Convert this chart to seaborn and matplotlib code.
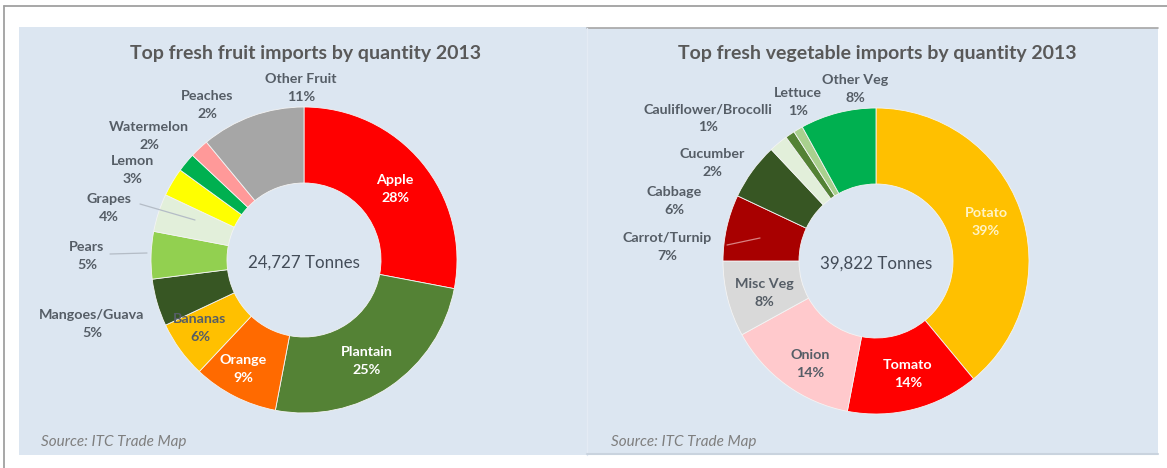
import matplotlib
matplotlib.use("Agg")
import matplotlib.pyplot as plt
from matplotlib.patches import Rectangle
import seaborn as sns

# ---- data -------------------------------------------------------------
fruit_names = ["Apple", "Plantain", "Orange", "Bananas", "Mangoes/Guava",
               "Pears", "Grapes", "Lemon", "Watermelon", "Peaches",
               "Other Fruit"]
fruit_pct = [28, 25, 9, 6, 5, 5, 4, 3, 2, 2, 11]
fruit_total = "24,727 Tonnes"

veg_names = ["Potato", "Tomato", "Onion", "Misc Veg", "Carrot/Turnip",
             "Cabbage", "Cucumber", "Cauliflower/Brocolli", "Lettuce",
             "Other Veg"]
veg_pct = [39, 14, 14, 8, 7, 6, 2, 1, 1, 8]
veg_total = "39,822 Tonnes"

fruit_title = "Top fresh fruit imports by quantity 2013"
veg_title = "Top fresh vegetable imports by quantity 2013"
source_text = "Source: ITC Trade Map"

# ---- styling ----------------------------------------------------------
fruit_colors = ["#ff0000", "#548235", "#ff6a00", "#ffc000", "#375623",
                "#92d050", "#e2efda", "#ffff00", "#00b050", "#ff9999",
                "#a6a6a6"]
veg_colors = ["#ffc000", "#ff0000", "#ffc9cc", "#d9d9d9", "#a80000",
              "#375623", "#e2efda", "#548235", "#a9d08e", "#00b050"]

DARK = "#555d66"
fruit_text_colors = ["white", "white", "white", DARK] + [DARK] * 7
veg_text_colors = ["#fff3c4", "white", DARK, DARK] + [DARK] * 6

# label centres relative to the donut centre (pixels, +y downwards)
fruit_label_pos = [(91, -71), (63, 101), (-61, 109), (-104, 68),
                   (-212, 64), (-217, -4), (-195, -52), (-172, -90),
                   (-155, -124), (-97, -155), (-3, -172)]
veg_label_pos = [(110, -39), (32, 113), (-66, 103), (-112, 32),
                 (-209, -14), (-202, -60), (-164, -98), (-168, -143),
                 (-78, -159), (-21, -172)]

# leader lines (start, end) relative to donut centre
fruit_leaders = {"Grapes": ((-164, -56), (-109, -40), "#b4bcc6"),
                 "Pears": ((-194, -6), (-157, -7), "#b4bcc6")}
veg_leaders = {"Carrot/Turnip": ((-149, -16), (-116, -23), "#d98080")}

W, H = 1167, 468
R_OUT, RING = 153, 76

sns.set_theme(style="white")
plt.rcParams["font.family"] = ["Lato", "DejaVu Sans"]

fig = plt.figure(figsize=(W / 100, H / 100), dpi=100)
fig.patch.set_facecolor("white")
ax = fig.add_axes([0, 0, 1, 1])


def Y(y):
    return H - y


# panel backgrounds and frame lines
panel_bg = "#dce6f1"
ax.add_patch(Rectangle((19, Y(455)), 568, 428, facecolor=panel_bg,
                       edgecolor="none", zorder=0))
ax.add_patch(Rectangle((587, Y(455)), 571, 427, facecolor=panel_bg,
                       edgecolor="none", zorder=0))
ax.plot([587, 1158], [Y(28), Y(28)], color="#a6a6a6", lw=1.2, zorder=1)
ax.plot([587, 587], [Y(28), Y(455)], color="#e4ebf4", lw=1.0, zorder=1)
ax.plot([587, 1158], [Y(454), Y(454)], color="#c9d3de", lw=1.5, zorder=1)
ax.plot([4, W], [Y(6), Y(6)], color="#a0a0a0", lw=1.3, zorder=1)
ax.plot([4, 4], [Y(6), 0], color="#a0a0a0", lw=1.3, zorder=1)


def donut(cx, cy, names, values, colors, tcolors, lpos, leaders,
          title, total):
    ax.pie(values, colors=colors, startangle=90, counterclock=False,
           center=(cx, Y(cy)), radius=R_OUT,
           wedgeprops=dict(width=RING, edgecolor="#f4f4f4", linewidth=0.6),
           frame=True)
    for name, val, tc, (dx, dy) in zip(names, values, tcolors, lpos):
        ax.text(cx + dx, Y(cy + dy), f"{name}\n{val}%", ha="center",
                va="center", color=tc, fontsize=10.3, fontweight="bold",
                linespacing=1.6, zorder=5)
    for name, ((x0, y0), (x1, y1), col) in leaders.items():
        ax.plot([cx + x0, cx + x1], [Y(cy + y0), Y(cy + y1)], color=col,
                lw=0.9, zorder=4)
    ax.text(cx, Y(cy + 3), total, ha="center", va="center", color="#434c58",
            fontsize=12.2, zorder=5)
    ax.text(cx + 1, Y(53), title, ha="center", va="center", color="#595959",
            fontsize=14, fontweight="bold", zorder=5)


donut(304, 260, fruit_names, fruit_pct, fruit_colors, fruit_text_colors,
      fruit_label_pos, fruit_leaders, fruit_title, fruit_total)
donut(876, 261, veg_names, veg_pct, veg_colors, veg_text_colors,
      veg_label_pos, veg_leaders, veg_title, veg_total)

ax.text(41, Y(442), source_text, ha="left", va="center", color="#7f7f7f",
        fontsize=11, fontstyle="italic", zorder=5)
ax.text(611, Y(442), source_text, ha="left", va="center", color="#7f7f7f",
        fontsize=11, fontstyle="italic", zorder=5)

ax.set_xlim(0, W)
ax.set_ylim(0, H)
ax.set_aspect("auto")
ax.axis("off")

fig.savefig("out.png", dpi=100, facecolor="white")
